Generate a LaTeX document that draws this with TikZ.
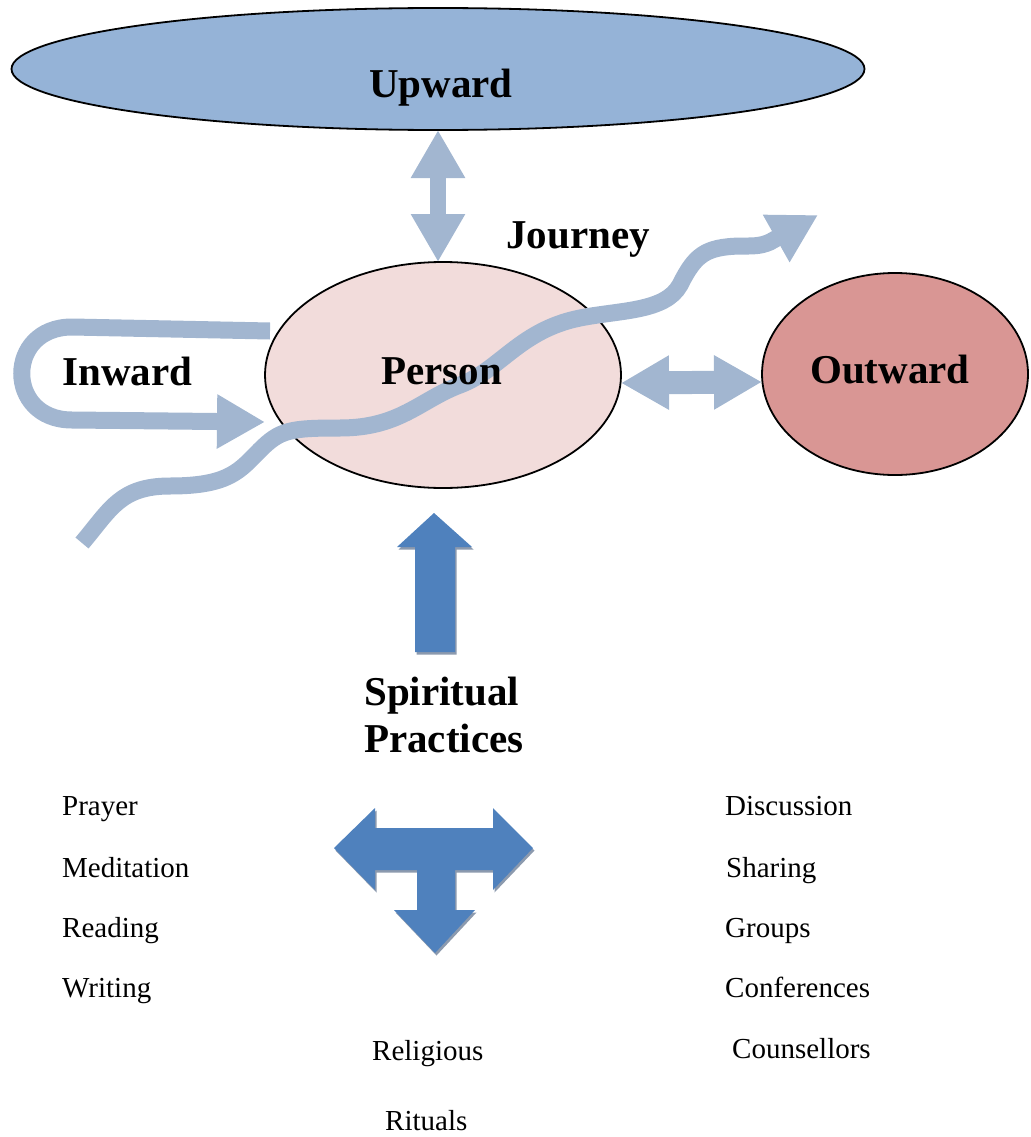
\documentclass[tikz,border=0pt]{standalone}
\usepackage{fontspec}
\setmainfont{Liberation Serif}
\usetikzlibrary{shapes.geometric,arrows.meta}
\definecolor{upblue}{HTML}{95B3D7}
\definecolor{personpink}{HTML}{F2DCDB}
\definecolor{outrose}{HTML}{D99694}
\definecolor{pathblue}{HTML}{A2B6D0}
\definecolor{pracblue}{HTML}{4F81BD}
\definecolor{pracshade}{HTML}{8C9AAE}

\begin{document}
\begin{tikzpicture}[
    x=1pt, y=-1pt,
    >={Triangle[length=48pt, width=51pt]},
    sphere/.style={ellipse, draw, line width=1.8pt, inner sep=0pt, outer sep=0pt},
    headtext/.style={font=\bfseries\fontsize{41}{47}\selectfont, inner sep=0pt, anchor=base},
    itemtext/.style={font=\fontsize{29}{35}\selectfont, inner sep=0pt, anchor=base west},
    flow/.style={draw=pathblue, line width=17pt},
    practice/.style={fill=pracblue, preaction={fill=pracshade, transform canvas={xshift=1.5pt, yshift=-2.5pt}}}
  ]
    \useasboundingbox (0,0) rectangle (1030,1137);

    \node[sphere, fill=upblue, minimum width=853pt, minimum height=122pt] (upward) at (438,69) {};
    \node[sphere, fill=personpink, minimum width=356pt, minimum height=226pt] (person) at (443,375) {};
    \node[sphere, fill=outrose, minimum width=266pt, minimum height=202pt] (outward) at (895,374) {};

    \draw[flow, line width=16pt, <->] (upward.south) -- (upward.south |- person.north);
    \draw[flow, line width=23pt, <->] ([yshift=-8pt]person.east) -- ([yshift=-8pt]outward.west);

    % inward loop
    \coordinate (inwardA) at ([shift={(5pt,44pt)}]person.west);
    \coordinate (inwardB) at ([shift={(0pt,-47pt)}]person.west);
    \draw[flow, ->] (inwardA) -- (72,327) .. controls (5,327) and (5,420) .. (72,420) -- (inwardB);

    % journey
    \coordinate (journeyS) at (82,543);
    \coordinate (journeyE) at (818,215);
    \draw[flow, ->] (journeyS) .. controls (110,510) and (120,486) .. (170,486)
      .. controls (230,486) and (240,470) .. (260,450)
      .. controls (280,430) and (290,428) .. (340,428)
      .. controls (400,428) and (420,400) .. (460,385)
      .. controls (500,370) and (520,330) .. (580,318)
      .. controls (620,310) and (665,312) .. (680,285)
      .. controls (695,255) and (705,247) .. (740,246)
      .. controls (752,246) and (760,246.5) .. (770,242) -- (journeyE);

    \node[headtext] (upwardtext) at (441,98) {Upward};
    \node[headtext] (persontext) at (441.5,384) {Person};
    \node[headtext] (outwardtext) at (890,383) {Outward};
    \node[headtext] (inwardtext) at (127.5,385) {Inward};
    \node[headtext] (journeytext) at (578,248) {Journey};

    % spiritual practices
    \fill[practice] (434,513) -- (472,547) -- (455,547) -- (455,652) -- (415,652) -- (415,547) -- (397,547) -- cycle;
    \node[headtext, anchor=base west, align=left] (practices) at (364,752) {Spiritual\\Practices};
    \fill[practice] (334,848) -- (375,808) -- (375,828) -- (493,828) -- (493,808) -- (533,848) -- (493,890)
      -- (493,870) -- (455,870) -- (455,910) -- (475,910) -- (435,953) -- (394,910) -- (417,910)
      -- (417,870) -- (375,870) -- (375,890) -- cycle;

    \node[itemtext] (prayer) at (62,815) {Prayer};
    \node[itemtext] (meditation) at (62,877) {Meditation};
    \node[itemtext] (reading) at (62,937) {Reading};
    \node[itemtext] (writing) at (62,997) {Writing};

    \node[itemtext] (discussion) at (725,815) {Discussion};
    \node[itemtext] (sharing) at (726,877) {Sharing};
    \node[itemtext] (groups) at (725,937) {Groups};
    \node[itemtext] (conferences) at (725,997) {Conferences};
    \node[itemtext] (counsellors) at (732,1058) {Counsellors};

    \node[itemtext] (religious) at (372,1060) {Religious};
    \node[itemtext] (rituals) at (385,1130) {Rituals};
  \end{tikzpicture}
\end{document}
